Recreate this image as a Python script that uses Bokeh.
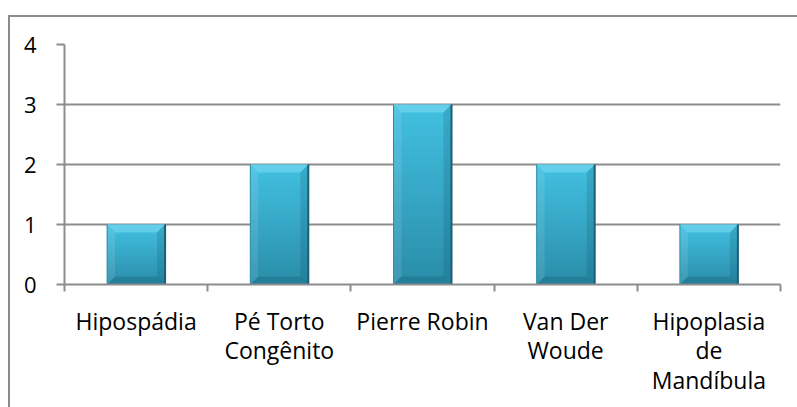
import numpy as np
from bokeh.plotting import figure
from bokeh.models import Range1d, FixedTicker, InlineStyleSheet
from bokeh.embed import file_html
from bokeh.resources import INLINE

# Data
categories = ["Hipospádia", "Pé Torto\nCongênito", "Pierre Robin",
              "Van Der\nWoude", "Hipoplasia\nde\nMandíbula"]
counts = [1, 2, 3, 2, 1]
y_ticks = [0, 1, 2, 3, 4]

# Layout
W, H = 797, 407
LEFT, RIGHT, TOP, BOTTOM = 64, 17, 44, 123
n = len(categories)
y_max = y_ticks[-1]
px_x = (W - LEFT - RIGHT) / n          # pixels per category
px_y = (H - TOP - BOTTOM) / y_max      # pixels per unit
FONT = "Open Sans"
GRAY = "#8c8c8c"

# Chart area border (top and left edges; the rest runs off the page)
chart_border = InlineStyleSheet(css=f"""
:host {{ position: relative; }}
:host::after {{
  content: "";
  position: absolute;
  left: 8px; top: 15px; right: 0; bottom: 0;
  border-top: 2px solid {GRAY};
  border-left: 2px solid {GRAY};
  pointer-events: none;
}}
""")

p = figure(width=W, height=H, output_backend="svg", toolbar_location=None,
           x_range=Range1d(0, n), y_range=Range1d(0, y_max),
           min_border_left=LEFT, min_border_right=RIGHT,
           min_border_top=TOP, min_border_bottom=BOTTOM,
           background_fill_color="white", border_fill_color="white",
           stylesheets=[chart_border])
p.outline_line_color = None

# Grid
p.xgrid.grid_line_color = None
p.ygrid.ticker = FixedTicker(ticks=y_ticks)
p.ygrid.grid_line_color = GRAY
p.ygrid.grid_line_width = 2

# Y axis
p.yaxis.ticker = FixedTicker(ticks=y_ticks)
p.yaxis.axis_line_color = GRAY
p.yaxis.axis_line_width = 2
p.yaxis.major_tick_line_color = GRAY
p.yaxis.major_tick_line_width = 2
p.yaxis.major_tick_out = 8
p.yaxis.major_tick_in = 0
p.yaxis.minor_tick_line_color = None
p.yaxis.major_label_standoff = 20
p.yaxis.major_label_text_font = FONT
p.yaxis.major_label_text_font_size = "22px"
p.yaxis.major_label_text_color = "black"

# X axis: labels at category centres, tick marks at category boundaries
centers = [i + 0.5 for i in range(n)]
p.xaxis.ticker = FixedTicker(ticks=centers, minor_ticks=list(range(n + 1)))
p.xaxis.major_label_overrides = {c: lab for c, lab in zip(centers, categories)}
p.xaxis.axis_line_color = GRAY
p.xaxis.axis_line_width = 2
p.xaxis.major_tick_line_color = None
p.xaxis.major_tick_out = 0
p.xaxis.major_tick_in = 0
p.xaxis.minor_tick_line_color = GRAY
p.xaxis.minor_tick_line_width = 2
p.xaxis.minor_tick_out = 7
p.xaxis.minor_tick_in = 0
p.xaxis.major_label_standoff = 13
p.xaxis.major_label_text_font = FONT
p.xaxis.major_label_text_font_size = "23px"
p.xaxis.major_label_text_color = "black"
p.xaxis.major_label_text_line_height = 0.93
p.xaxis.major_label_text_align = "center"

# Bars: vertical gradient built from overlapping thin slices, plus bevel edges
bw = 0.405
top_rgb = np.array([0x43, 0xc1, 0xe2])
bot_rgb = np.array([0x2a, 0x8d, 0xa9])
N = 40
L, R, B, T, C = [], [], [], [], []
for c, v in zip(centers, counts):
    for k in range(N):
        f = (k + 0.5) / N
        rgb = (bot_rgb + (top_rgb - bot_rgb) * f).astype(int)
        L.append(c - bw / 2); R.append(c + bw / 2)
        B.append(v * k / N); T.append(min(v, v * (k + 1.6) / N))
        C.append("#%02x%02x%02x" % tuple(rgb))
p.quad(left=L, right=R, bottom=B, top=T, fill_color=C, line_color=None)

bx = 8 / px_x
by = 8 / px_y
top_xs, top_ys, lft_xs, lft_ys, rgt_xs, rgt_ys, bot_xs, bot_ys = [], [], [], [], [], [], [], []
for c, v in zip(centers, counts):
    l, r = c - bw / 2, c + bw / 2
    top_xs.append([l, r, r - bx, l + bx]); top_ys.append([v, v, v - by, v - by])
    lft_xs.append([l, l + bx, l + bx, l]); lft_ys.append([v, v - by, by, 0])
    rgt_xs.append([r, r - bx, r - bx, r]); rgt_ys.append([v, v - by, by, 0])
    bot_xs.append([l, r, r - bx, l + bx]); bot_ys.append([0, 0, by, by])
p.patches(top_xs, top_ys, fill_color="#7fdcf2", fill_alpha=0.55, line_color=None)
p.patches(lft_xs, lft_ys, fill_color="#ffffff", fill_alpha=0.10, line_color=None)
p.patches(rgt_xs, rgt_ys, fill_color="#0d4a5c", fill_alpha=0.18, line_color=None)
p.patches(bot_xs, bot_ys, fill_color="#0d4a5c", fill_alpha=0.22, line_color=None)

# Bar edges
p.segment(x0=[c + bw / 2 for c in centers], y0=[0] * n,
          x1=[c + bw / 2 for c in centers], y1=counts,
          line_color="#1b5f72", line_width=2)
p.segment(x0=[c - bw / 2 for c in centers], y0=[0] * n,
          x1=[c - bw / 2 for c in centers], y1=counts,
          line_color="#2b8ca7", line_width=1)

open("out.html", "w").write(file_html(p, INLINE))
